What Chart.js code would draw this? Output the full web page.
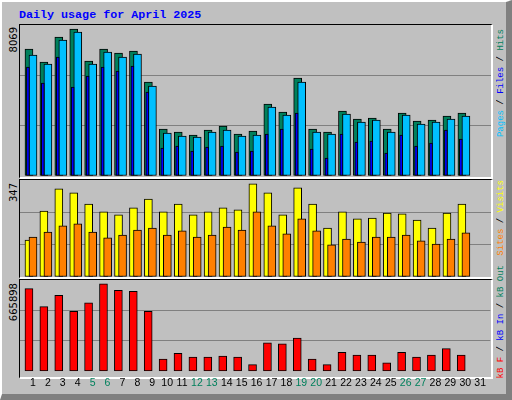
<!DOCTYPE html>
<html><head><meta charset="utf-8">
<script src="https://cdn.jsdelivr.net/npm/chart.js@4"></script>
<style>
html,body{margin:0;padding:0;background:#C0C0C0;}
#frame{position:absolute;left:0;top:0;width:504px;height:392px;background:#C0C0C0;border-top:2px solid #fff;border-left:2px solid #fff;border-right:6px solid #808080;border-bottom:6px solid #808080;}
.panel{position:absolute;box-sizing:border-box;border-top:1px solid #000;border-left:1px solid #000;border-right:2px solid #fff;border-bottom:2px solid #fff;}
.cv{position:absolute;}
.t{position:absolute;font-family:"Liberation Mono","DejaVu Sans Mono",monospace;white-space:nowrap;}
.v{writing-mode:vertical-rl;transform:rotate(180deg);}
</style></head><body>
<div id="frame"></div>
<div class="t" style="left:19px;top:8px;font-size:11.7px;font-weight:bold;color:#0000FF;">Daily usage for April 2025</div>
<div class="panel" style="left:19px;top:24px;width:474px;height:155px;"></div>
<div class="panel" style="left:19px;top:179px;width:474px;height:100px;"></div>
<div class="panel" style="left:19px;top:279px;width:474px;height:100px;"></div>
<div class="t v" style="left:8px;top:27px;font-family:'DejaVu Sans',sans-serif;font-size:10px;color:#000;">8069</div>
<div class="t v" style="left:8px;top:183px;font-family:'DejaVu Sans',sans-serif;font-size:10px;color:#000;">347</div>
<div class="t v" style="left:8px;top:283px;font-family:'DejaVu Sans',sans-serif;font-size:10px;color:#000;">665898</div>
<div class="t v" style="left:496px;top:29px;font-size:9px;"><span style="color:#00C0FF">Pages</span> / <span style="color:#0000FF">Files</span> / <span style="color:#00805C">Hits</span></div>
<div class="t v" style="left:496px;top:180px;font-size:9px;"><span style="color:#FF8000">Sites</span> / <span style="color:#FFFF00">Visits</span></div>
<div class="t v" style="left:496px;top:265px;font-size:9px;"><span style="color:#FF0000">kB F</span> / <span style="color:#0000FF">kB In</span> / <span style="color:#00805C">kB Out</span></div>
<canvas id="c1" class="cv" style="left:20px;top:25px;width:471px;height:151px;"></canvas>
<canvas id="c2" class="cv" style="left:20px;top:180px;width:471px;height:97px;"></canvas>
<canvas id="c3" class="cv" style="left:20px;top:280px;width:471px;height:114px;"></canvas>
<script>
const days=[1,2,3,4,5,6,7,8,9,10,11,12,13,14,15,16,17,18,19,20,21,22,23,24,25,26,27,28,29,30,31];
const weekendDays=[5,6,12,13,19,20,26,27];
const hits=[6787,6092,7428,7856,6146,6787,6573,6680,5023,2512,2351,2191,2458,2672,2244,2405,3848,3420,5237,2512,2351,3474,3046,3100,2512,3367,2939,2993,3206,3367];
const files=[6466,5985,7268,7695,5985,6627,6359,6520,4810,2298,2138,2084,2351,2458,2138,2191,3687,3260,5023,2351,2244,3313,2886,2993,2351,3260,2779,2886,3046,3206];
const pages=[5825,4970,6359,4756,5344,5825,5611,5878,4489,1496,1603,1336,1550,1603,1283,1336,2244,2512,3367,1443,962,2244,1817,1870,1229,2191,1603,1763,2458,1977];
const visits=[132,236,315,301,261,233,222,247,279,233,261,222,233,247,240,333,301,222,319,261,175,233,208,211,229,226,204,175,229,261];
const sites=[143,161,183,190,161,140,150,168,175,150,165,143,150,179,168,233,183,154,208,165,115,136,125,143,143,150,129,118,136,158];
const kbytes=[603000,472000,555000,437000,499000,638000,590000,583000,437000,90000,132000,104000,104000,111000,104000,49000,208000,201000,243000,90000,49000,139000,118000,118000,62000,139000,104000,118000,166000,118000];
const maxHits=8069, maxVisits=347, maxKB=665898;

function pts(vals,off){return vals.map((v,i)=>({x:days[i]+off,y:v}));}
function ds(vals,off,color,w,order,bw){return {data:pts(vals,off),backgroundColor:color,borderColor:'#000',borderWidth:bw,borderSkipped:false,barThickness:w,grouped:false,order:order};}
function makeChart(id,datasets,max,showX){
  return new Chart(document.getElementById(id),{type:'bar',data:{datasets},
    options:{responsive:false,animation:false,maintainAspectRatio:false,
      layout:{padding:0},
      plugins:{legend:{display:false},tooltip:{enabled:false}},
      scales:{
        x:{type:'linear',min:0.13,max:31.68,offset:false,
          display:showX,grid:{display:false,drawTicks:false},border:{display:false},
          afterBuildTicks:(s)=>{s.ticks=days.map(d=>({value:d}));},
          ticks:{padding:5,autoSkip:false,maxRotation:0,font:{family:'Liberation Sans',size:10.5},
            color:(c)=>weekendDays.includes(c.tick.value)?'#00805C':'#000',callback:(v)=>String(v)}},
        y:{min:0,max:max,display:true,
          afterBuildTicks:(s)=>{s.ticks=[0,max/3,2*max/3,max].map(v=>({value:v}));},
          ticks:{display:false},border:{display:false},
          grid:{drawTicks:false,lineWidth:1,color:(c)=>(c.index===1||c.index===2)?'#808080':'rgba(0,0,0,0)'}}
      }}});
}
function sizeCanvas(id,w,h){const c=document.getElementById(id);c.width=w;c.height=h;}
sizeCanvas('c1',471,151);sizeCanvas('c2',471,97);sizeCanvas('c3',471,114);
makeChart('c1',[ds(hits,-0.27,'#00805C',8,3,1),ds(files,0,'#00C0FF',8,2,1),ds(pages,-0.34,'#0000FF',3,1,1)],maxHits,false);
makeChart('c2',[ds(visits,-0.27,'#FFFF00',8,2,1),ds(sites,0,'#FF8000',8,1,1)],maxVisits,false);
makeChart('c3',[ds(kbytes,-0.27,'#FF0000',8,1,1)],maxKB,true);
</script></body></html>
